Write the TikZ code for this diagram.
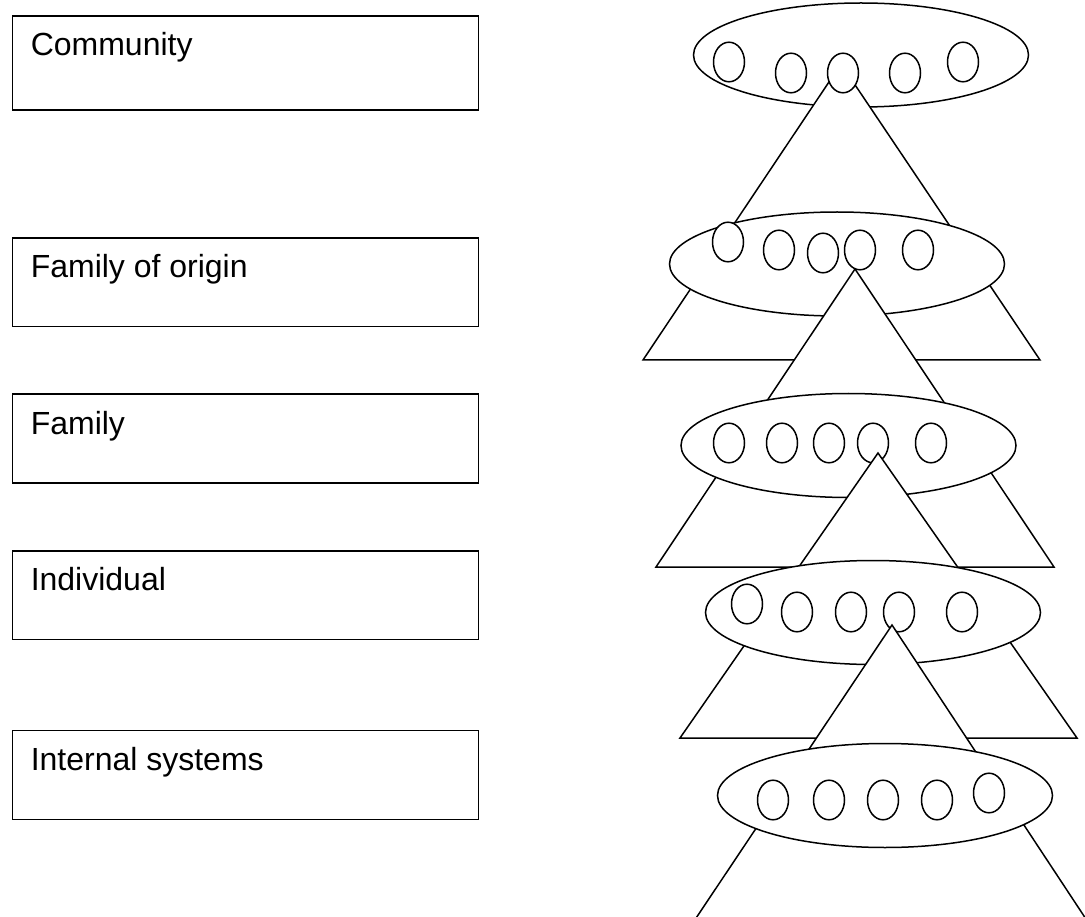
\documentclass[tikz,border=0pt]{standalone}
\usepackage{fontspec}
\setmainfont{Liberation Sans}
\begin{document}
\begin{tikzpicture}[x=1pt,y=-1pt,line width=1.5pt,
  box/.style={draw,rectangle,inner sep=0pt,line width=1.5pt,minimum width=466pt,anchor=north west},
  lbl/.style={anchor=base west,inner sep=0pt,font=\fontsize{32}{38}\selectfont},
  shp/.style={draw=black,fill=white,line width=1.5pt},
  big/.style={shp},
  ring/.style={shp}]
\fill[white] (0,0) rectangle (1085,917);
\useasboundingbox (0,0) rectangle (1085,917);
\clip (0,0) rectangle (1085,917);
% left boxes
\node[box,minimum height=94pt] (b1) at (11.5,15.5) {};
\node[box,minimum height=88.5pt] (b2) at (11.5,237.5) {};
\node[box,minimum height=88.5pt] (b3) at (11.5,393.5) {};
\node[box,minimum height=88.5pt] (b4) at (11.5,550) {};
\node[box,minimum height=89pt] (b5) at (11.5,729.5) {};
\node[lbl] (l1) at (30,56) {Community};
\node[lbl] (l2) at (30,277.5) {Family of origin};
\node[lbl] (l3) at (30,434) {Family};
\node[lbl] (l4) at (30,590.5) {Individual};
\node[lbl] (l5) at (30,770) {Internal systems};
% level 1
\filldraw[big] (861,55) ellipse [x radius=167.5pt, y radius=52pt];
\filldraw[big] (841,64) -- (643,360) -- (1040,360) -- cycle;
\foreach \p in {(729,62),(791,73),(843,73),(905,73),(963,62)}
  \filldraw[ring] \p ellipse [x radius=15.5pt, y radius=19.8pt];
% level 2
\filldraw[big] (837,264) ellipse [x radius=167.5pt, y radius=52pt];
\foreach \p in {(728,242),(779,250),(823,253),(860,250),(918,250)}
  \filldraw[ring] \p ellipse [x radius=15.5pt, y radius=19.8pt];
\filldraw[big] (855,269) -- (656,567) -- (1054,567) -- cycle;
% level 3
\filldraw[big] (848.5,445.5) ellipse [x radius=167.5pt, y radius=52pt];
\foreach \p in {(729,443),(782,443),(829,443),(873,443),(931,443)}
  \filldraw[ring] \p ellipse [x radius=15.5pt, y radius=19.8pt];
\filldraw[big] (878,453) -- (680,738) -- (1077,738) -- cycle;
% level 4
\filldraw[big] (873,612.5) ellipse [x radius=167.5pt, y radius=52pt];
\foreach \p in {(747,604),(797,612),(851,612),(899,612),(962,612)}
  \filldraw[ring] \p ellipse [x radius=15.5pt, y radius=19.8pt];
\filldraw[big] (892,625) -- (668,960) -- (1113,960) -- cycle;
% level 5
\filldraw[big] (885,795.5) ellipse [x radius=167.5pt, y radius=52pt];
\foreach \p in {(773,800),(829,800),(883,800),(937,800),(989,793)}
  \filldraw[ring] \p ellipse [x radius=15.5pt, y radius=19.8pt];
\end{tikzpicture}
\end{document}
